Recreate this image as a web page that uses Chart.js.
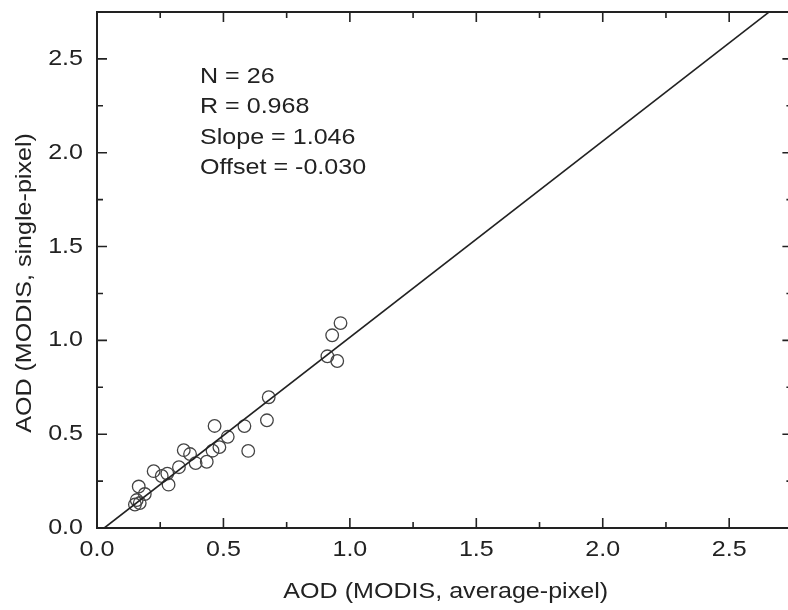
<!DOCTYPE html>
<html>
<head>
<meta charset="utf-8">
<script src="https://cdn.jsdelivr.net/npm/chart.js@4/dist/chart.umd.min.js"></script>
<style>
  html, body { margin: 0; padding: 0; background: #fff; overflow: hidden; }
  #wrap { width: 800px; height: 610px; }
</style>
</head>
<body>
<div id="wrap"><canvas id="c" width="800" height="610"></canvas></div>
<script>
// ---- data ----
const avgPixel = [0.963, 0.930, 0.911, 0.950, 0.679, 0.672, 0.583, 0.598, 0.517, 0.465,
                  0.484, 0.457, 0.434, 0.390, 0.368, 0.343, 0.324, 0.283, 0.256, 0.278,
                  0.224, 0.165, 0.189, 0.157, 0.150, 0.169];
const singlePixel = [1.092, 1.027, 0.915, 0.890, 0.697, 0.574, 0.543, 0.411, 0.486, 0.544,
                     0.431, 0.412, 0.353, 0.346, 0.394, 0.415, 0.324, 0.231, 0.277, 0.290,
                     0.303, 0.221, 0.181, 0.149, 0.125, 0.133];
const fitSlope = 1.046;
const fitOffset = -0.030;
const statsLines = ["N = 26", "R = 0.968", "Slope = 1.046", "Offset = -0.030"];
const tickValues = [0.0, 0.5, 1.0, 1.5, 2.0, 2.5];
const tickLabels = ["0.0", "0.5", "1.0", "1.5", "2.0", "2.5"];
const minorTickValues = [0.25, 0.75, 1.25, 1.75, 2.25, 2.75];
const xTitle = "AOD (MODIS, average-pixel)";
const yTitle = "AOD (MODIS, single-pixel)";
const axisMin = 0, axisMax = 2.75;

// ---- chart ----
const points = avgPixel.map((x, i) => ({ x: x, y: singlePixel[i] }));
const fitX0 = -fitOffset / fitSlope;
const fitLine = [
  { x: fitX0, y: 0 },
  { x: axisMax, y: fitSlope * axisMax + fitOffset }
];

const FONT = '22px "Liberation Sans", Arial, sans-serif';
const STRETCH = 1.14;
const INK = '#222';

function drawText(ctx, str, x, y, align, rotate) {
  ctx.save();
  ctx.translate(x, y);
  if (rotate) ctx.rotate(-Math.PI / 2);
  ctx.scale(STRETCH, 1);
  ctx.font = FONT;
  ctx.fillStyle = INK;
  ctx.textAlign = align;
  ctx.textBaseline = 'middle';
  ctx.fillText(str, 0, 0);
  ctx.restore();
}

const framePlugin = {
  id: 'frame',
  afterDraw(chart) {
    const ctx = chart.ctx;
    const a = chart.chartArea;
    const xs = chart.scales.x, ys = chart.scales.y;
    ctx.save();
    ctx.strokeStyle = INK;
    ctx.lineWidth = 2;
    ctx.strokeRect(a.left, a.top, a.right - a.left, a.bottom - a.top);
    ctx.lineWidth = 1.6;
    ctx.beginPath();
    const tick = (vals, len) => {
      vals.forEach(v => {
        const px = xs.getPixelForValue(v);
        if (px >= a.left - 0.5 && px <= a.right + 0.5) {
          ctx.moveTo(px, a.bottom); ctx.lineTo(px, a.bottom - len);
          ctx.moveTo(px, a.top); ctx.lineTo(px, a.top + len);
        }
        const py = ys.getPixelForValue(v);
        if (py >= a.top - 0.5 && py <= a.bottom + 0.5) {
          ctx.moveTo(a.left, py); ctx.lineTo(a.left + len, py);
          ctx.moveTo(a.right, py); ctx.lineTo(a.right - len, py);
        }
      });
    };
    tick(tickValues, 10);
    tick(minorTickValues, 6);
    ctx.stroke();
    ctx.restore();

    // tick labels
    tickValues.forEach((v, i) => {
      drawText(ctx, tickLabels[i], xs.getPixelForValue(v), a.bottom + 22, 'center', false);
      drawText(ctx, tickLabels[i], a.left - 14, ys.getPixelForValue(v), 'right', false);
    });
    // axis titles
    drawText(ctx, xTitle, (a.left + a.right) / 2 + 1, 592, 'center', false);
    drawText(ctx, yTitle, 25, 283, 'center', true);
    // statistics
    statsLines.forEach((s, i) => {
      drawText(ctx, s, 200, 76.5 + i * 30.5, 'left', false);
    });
  }
};

new Chart(document.getElementById('c'), {
  type: 'scatter',
  data: {
    datasets: [
      {
        label: 'fit',
        type: 'line',
        data: fitLine,
        borderColor: INK,
        borderWidth: 1.6,
        pointRadius: 0,
        fill: false,
        tension: 0
      },
      {
        label: 'AOD',
        data: points,
        pointStyle: 'circle',
        pointRadius: 6.3,
        pointBorderWidth: 1.3,
        borderColor: '#444',
        backgroundColor: 'rgba(0,0,0,0)'
      }
    ]
  },
  options: {
    responsive: false,
    animation: false,
    devicePixelRatio: 1,
    layout: { padding: { left: 0, top: 12, right: 5, bottom: 0 } },
    plugins: { legend: { display: false }, tooltip: { enabled: false } },
    scales: {
      x: {
        type: 'linear',
        min: axisMin, max: axisMax,
        grid: { display: false, drawTicks: false },
        border: { display: false },
        ticks: { display: false, stepSize: 0.5 },
        afterFit: s => { s.height = 82; }
      },
      y: {
        type: 'linear',
        min: axisMin, max: axisMax,
        grid: { display: false, drawTicks: false },
        border: { display: false },
        ticks: { display: false, stepSize: 0.5 },
        afterFit: s => { s.width = 97; }
      }
    }
  },
  plugins: [framePlugin]
});
</script>
</body>
</html>
